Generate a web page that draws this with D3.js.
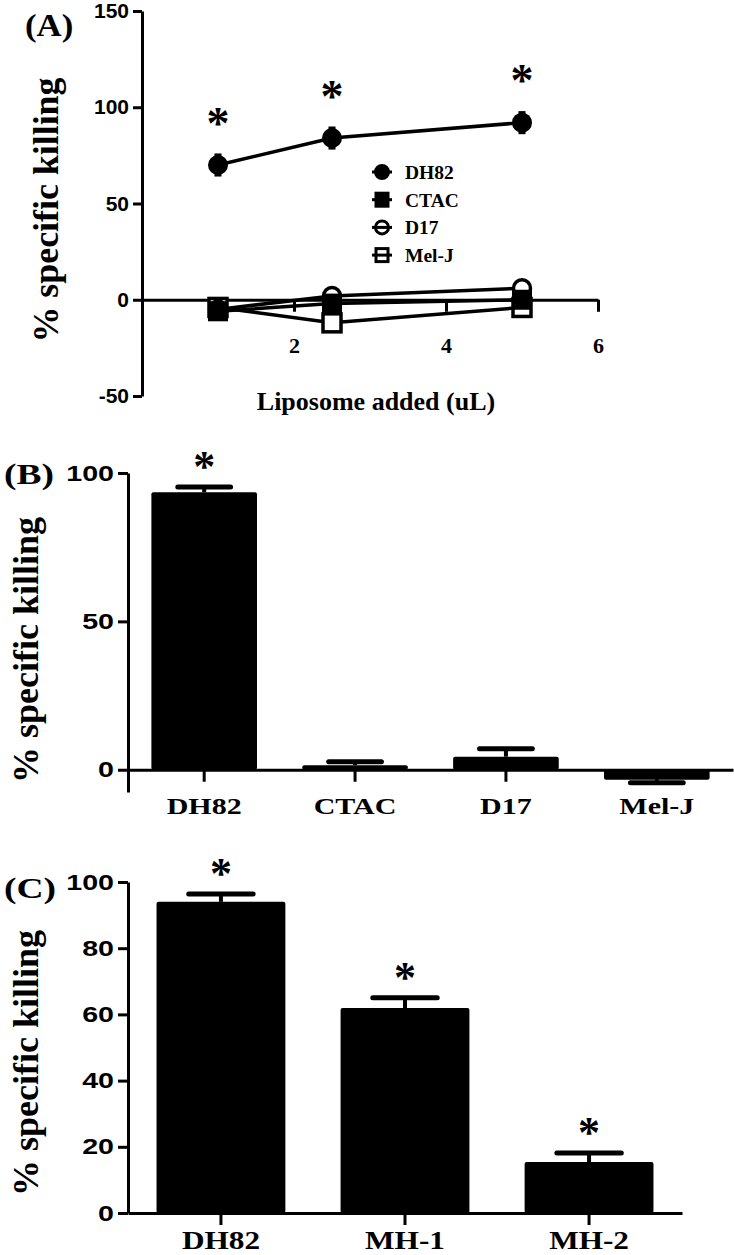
<!DOCTYPE html>
<html><head><meta charset="utf-8">
<script src="https://cdn.jsdelivr.net/npm/d3@7/dist/d3.min.js"></script>
<style>html,body{margin:0;padding:0;background:#fff}svg{display:block}</style>
</head><body>
<svg id="chart" width="734" height="1255"></svg>
<script>
// ---------- DATA ----------
const lipoX = [1, 2.5, 5];
const dh82A = [70, 84, 92];
const dh82AErr = [6, 6, 6];
const ctacA = [-6, -2, 0];
const d17A = [-5, 2, 6];
const meljA = [-4, -12, -4];
const aTicksY = [-50, 0, 50, 100, 150];
const aTicksX = [2, 4, 6];

const bCats = ["DH82", "CTAC", "D17", "Mel-J"];
const bVals = [93.5, 1.5, 4.4, -3.4];
const bErr = [1.8, 1.2, 2.7, 1.0];
const bSig = [true, false, false, false];
const bTicks = [0, 50, 100];

const cCats = ["DH82", "MH-1", "MH-2"];
const cVals = [94, 61.9, 15.4];
const cErr = [2.4, 3.1, 2.7];
const cSig = [true, true, true];
const cTicks = [0, 20, 40, 60, 80, 100];

// ---------- HELPERS ----------
const svg = d3.select("#chart");
const SERIF = "Liberation Serif, Times New Roman, serif";
const SANS = "Liberation Sans, Arial, sans-serif";
const fmt = d => String(d);
function stretch(sel, k) {
  sel.each(function () {
    const l = this.getComputedTextLength();
    this.setAttribute("textLength", l * k);
    this.setAttribute("lengthAdjust", "spacingAndGlyphs");
  });
}
function styleAxis(g, sw) {
  g.selectAll("path.domain").attr("stroke", "#000").attr("stroke-width", sw);
  g.selectAll(".tick line").attr("stroke", "#000").attr("stroke-width", sw);
}
function yLabel(x, yc, len) {
  svg.append("text")
    .attr("transform", `translate(${x},${yc}) rotate(-90)`)
    .attr("text-anchor", "middle")
    .attr("font-family", SERIF).attr("font-weight", "bold").attr("font-size", 35)
    .attr("textLength", len).attr("lengthAdjust", "spacingAndGlyphs")
    .text("% specific killing");
}
function star(x, yc, size) {
  svg.append("text").attr("x", x).attr("y", yc + size * 0.47)
    .attr("text-anchor", "middle").attr("font-family", SERIF)
    .attr("font-weight", "bold").attr("font-size", size).text("*");
}

// ================= PANEL A =================
{
  const x = d3.scaleLinear().domain([0, 6]).range([142, 598]);
  const y = d3.scaleLinear().domain([-50, 150]).range([396, 11]);

  const ya = svg.append("g").attr("transform", `translate(${x(0)},0)`)
    .call(d3.axisLeft(y).tickValues(aTicksY).tickFormat(fmt).tickSize(9).tickSizeOuter(0).tickPadding(4));
  styleAxis(ya, 3);
  ya.selectAll("text").attr("font-family", SANS).attr("font-weight", "bold")
    .attr("font-size", 21).attr("fill", "#000");

  const xa = svg.append("g").attr("transform", `translate(0,${y(0)})`)
    .call(d3.axisBottom(x).tickValues(aTicksX).tickFormat(fmt).tickSize(12).tickSizeOuter(0).tickPadding(26));
  styleAxis(xa, 3);
  xa.selectAll("text").attr("font-family", SERIF).attr("font-weight", "bold")
    .attr("font-size", 22).attr("fill", "#000");

  svg.append("text").attr("x", 376).attr("y", 410).attr("text-anchor", "middle")
    .attr("font-family", SERIF).attr("font-weight", "bold").attr("font-size", 25)
    .text("Liposome added (uL)").call(stretch, 1.04);

  yLabel(58, 210, 265);

  const series = [
    { name: "DH82", vals: dh82A, type: "circle", fill: "#000" },
    { name: "CTAC", vals: ctacA, type: "square", fill: "#000" },
    { name: "D17", vals: d17A, type: "circle", fill: "#fff" },
    { name: "Mel-J", vals: meljA, type: "square", fill: "#fff" }
  ];
  const line = d3.line().x(d => x(d[0])).y(d => y(d[1]));

  series.slice().reverse().forEach(s => {
    svg.append("path").datum(lipoX.map((xv, i) => [xv, s.vals[i]]))
      .attr("d", line).attr("fill", "none").attr("stroke", "#000").attr("stroke-width", 3.5);
  });
  lipoX.forEach((xv, i) => {
    svg.append("line").attr("x1", x(xv)).attr("x2", x(xv))
      .attr("y1", y(dh82A[i] - dh82AErr[i])).attr("y2", y(dh82A[i] + dh82AErr[i]))
      .attr("stroke", "#000").attr("stroke-width", 7);
  });
  const mg = svg.append("g");
  [series[3], series[2], series[1], series[0]].forEach(s => {
    lipoX.forEach((xv, i) => {
      const cx = x(xv), cy = y(s.vals[i]);
      if (s.type === "circle" && s.fill === "#fff") {
        mg.append("circle").attr("cx", cx).attr("cy", cy).attr("r", 8.5)
          .attr("fill", "#fff").attr("stroke", "#000").attr("stroke-width", 3.5);
      } else if (s.type === "square" && s.fill === "#fff") {
        mg.append("rect").attr("x", cx - 9).attr("y", cy - 9).attr("width", 18).attr("height", 18)
          .attr("fill", "#fff").attr("stroke", "#000").attr("stroke-width", 3.5);
      } else if (s.type === "square") {
        mg.append("rect").attr("x", cx - 10).attr("y", cy - 10).attr("width", 20).attr("height", 20)
          .attr("fill", "#000");
      } else {
        mg.append("circle").attr("cx", cx).attr("cy", cy).attr("r", 10).attr("fill", "#000");
      }
    });
  });
  lipoX.forEach((xv, i) => star(x(xv), y(dh82A[i]) - 48, 46));

  const lg = svg.append("g");
  series.forEach((s, i) => {
    const cy = 172 + i * 27.7;
    lg.append("line").attr("x1", 372).attr("x2", 392).attr("y1", cy).attr("y2", cy)
      .attr("stroke", "#000").attr("stroke-width", 3);
    if (s.type === "circle") {
      lg.append("circle").attr("cx", 382).attr("cy", cy).attr("r", 6.5)
        .attr("fill", s.fill).attr("stroke", "#000").attr("stroke-width", 3);
    } else {
      lg.append("rect").attr("x", 376).attr("y", cy - 6.5).attr("width", 12).attr("height", 13)
        .attr("fill", s.fill).attr("stroke", "#000").attr("stroke-width", 3);
    }
    if (s.fill === "#fff") {
      lg.append("line").attr("x1", 376).attr("x2", 388).attr("y1", cy).attr("y2", cy)
        .attr("stroke", "#000").attr("stroke-width", 3);
    }
    lg.append("text").attr("x", 405).attr("y", cy + 7)
      .attr("font-family", SERIF).attr("font-weight", "bold").attr("font-size", 19.5)
      .text(s.name);
  });

  svg.append("text").attr("x", 25).attr("y", 36)
    .attr("font-family", SERIF).attr("font-weight", "bold").attr("font-size", 31)
    .text("(A)").call(stretch, 1.12);
}

// ================= BAR PANELS =================
function barPanel(o) {
  const x = d3.scaleBand().domain(o.cats).range([o.x0, o.x1]).paddingInner(0.3).paddingOuter(0.155);
  const y = d3.scaleLinear().domain(o.ydom).range([o.yb, o.yt]);

  const ya = svg.append("g").attr("transform", `translate(${o.x0},0)`)
    .call(d3.axisLeft(y).tickValues(o.ticks).tickFormat(fmt).tickSize(10).tickSizeOuter(0).tickPadding(4));
  styleAxis(ya, 3);
  ya.selectAll("text").attr("font-family", SANS).attr("font-weight", "bold")
    .attr("font-size", 22).attr("fill", "#000").call(stretch, o.tickStretch);

  svg.append("g").selectAll("rect").data(o.vals).join("rect")
    .attr("x", (d, i) => x(o.cats[i]))
    .attr("width", x.bandwidth())
    .attr("y", d => Math.min(y(d), y(0)))
    .attr("height", d => Math.abs(y(d) - y(0)))
    .attr("rx", 2).attr("fill", "#000");

  const eg = svg.append("g");
  o.vals.forEach((v, i) => {
    const cx = x(o.cats[i]) + x.bandwidth() / 2;
    const end = v >= 0 ? v + o.err[i] : v - o.err[i];
    eg.append("line").attr("x1", cx).attr("x2", cx).attr("y1", y(v)).attr("y2", y(end))
      .attr("stroke", "#000").attr("stroke-width", 4);
    eg.append("line").attr("x1", cx - x.bandwidth() * 0.25).attr("x2", cx + x.bandwidth() * 0.25)
      .attr("y1", y(end)).attr("y2", y(end))
      .attr("stroke", "#000").attr("stroke-width", 5).attr("stroke-linecap", "round");
    if (o.sig[i]) star(cx, y(end) - 27, 44);
  });

  const xa = svg.append("g").attr("transform", `translate(0,${y(0)})`)
    .call(d3.axisBottom(x).tickSize(12).tickSizeOuter(0).tickPadding(o.catPad));
  styleAxis(xa, 3);
  xa.selectAll("text").attr("font-family", SERIF).attr("font-weight", "bold")
    .attr("font-size", o.catSize).attr("fill", "#000").call(stretch, o.catStretch);

  yLabel(38, o.labelY, 266);

  svg.append("text").attr("x", 4).attr("y", o.letterY)
    .attr("font-family", SERIF).attr("font-weight", "bold").attr("font-size", 30)
    .text(o.letter).call(stretch, 1.25);
}

barPanel({
  cats: bCats, vals: bVals, err: bErr, sig: bSig, ticks: bTicks,
  x0: 128, x1: 733, ydom: [-7.5, 100], yb: 792, yt: 473,
  tickStretch: 1.3, catSize: 24, catStretch: 1.25, catPad: 15,
  labelY: 650, letter: "(B)", letterY: 484
});

barPanel({
  cats: cCats, vals: cVals, err: cErr, sig: cSig, ticks: cTicks,
  x0: 128, x1: 682, ydom: [0, 100], yb: 1213, yt: 882,
  tickStretch: 1.3, catSize: 25, catStretch: 1.25, catPad: 6,
  labelY: 1063, letter: "(C)", letterY: 898
});
</script>
</body></html>
